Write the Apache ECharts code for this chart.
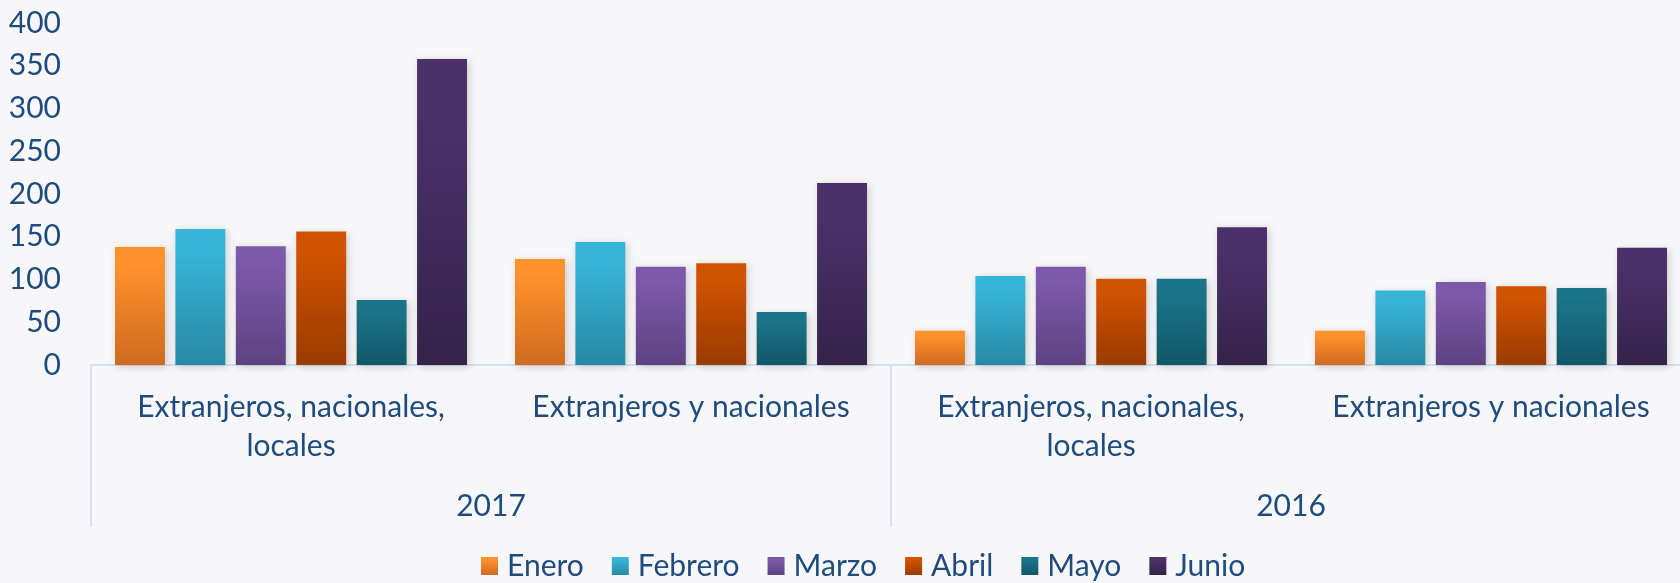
<!DOCTYPE html>
<html>
<head>
<meta charset="utf-8">
<script src="https://cdn.jsdelivr.net/npm/echarts@6/dist/echarts.min.js"></script>
<style>
html,body{margin:0;padding:0;background:#f7f7f9;}
#chart{width:1680px;height:583px;}
</style>
</head>
<body>
<div id="chart"></div>
<script>
const subCategories = ['Extranjeros, nacionales,\nlocales', 'Extranjeros y nacionales', 'Extranjeros, nacionales,\nlocales', 'Extranjeros y nacionales'];
const years = ['2017', '2016'];
const months = ['Enero', 'Febrero', 'Marzo', 'Abril', 'Mayo', 'Junio'];
const enero   = [138, 124, 40, 40];
const febrero = [159, 144, 104, 87];
const marzo   = [139, 115, 115, 97];
const abril   = [156, 119, 101, 92];
const mayo    = [76, 62, 101, 90];
const junio   = [358, 213, 161, 137];
const yTicks = { min: 0, max: 400, interval: 50 };

const seriesValues = [enero, febrero, marzo, abril, mayo, junio];
const gradients = [
  ['#ff922c', '#cf6a20'],
  ['#37b5d9', '#2789a4'],
  ['#7d59a9', '#5d4280'],
  ['#d05300', '#9a3b00'],
  ['#1b7489', '#115768'],
  ['#4b316a', '#35234a']
];
const txt = '#1f4b7d';
const fontFam = 'Lato, "Noto Sans", sans-serif';
const fs = 30;

const chart = echarts.init(document.getElementById('chart'), null, {renderer: 'canvas'});
chart.setOption({
  backgroundColor: '#f7f7f9',
  animation: false,
  textStyle: { fontFamily: fontFam },
  legend: {
    top: 546,
    left: 476,
    itemWidth: 17,
    itemHeight: 18,
    itemGap: 28,
    icon: 'rect',
    textStyle: { color: txt, fontSize: fs, fontFamily: fontFam, padding: [0, 0, 0, 4] },
    data: months
  },
  grid: { left: 91, width: 1600, top: 23, height: 342, containLabel: false, outerBoundsMode: 'none' },
  xAxis: [
    {
      type: 'category',
      data: subCategories,
      axisLine: { show: true, lineStyle: { color: '#d3e1f0', width: 2 } },
      axisTick: { show: false },
      axisLabel: { color: txt, fontSize: fs, fontFamily: fontFam, lineHeight: 39, margin: 23, interval: 0 }
    },
    {
      type: 'category',
      data: years,
      position: 'bottom',
      axisLine: { show: false },
      axisTick: { show: true, length: 162, lineStyle: { color: '#d3e1f0', width: 2 } },
      axisLabel: { color: txt, fontSize: fs, fontFamily: fontFam, lineHeight: 39, margin: 122, interval: 0 }
    }
  ],
  yAxis: {
    type: 'value',
    min: yTicks.min, max: yTicks.max, interval: yTicks.interval,
    splitLine: { show: false },
    axisLine: { show: false },
    axisTick: { show: false },
    axisLabel: { color: txt, fontSize: fs, fontFamily: fontFam, margin: 30 }
  },
  series: months.map((m, i) => ({
    name: m,
    type: 'bar',
    xAxisIndex: 0,
    data: seriesValues[i],
    barGap: '21%',
    barCategoryGap: '12%',
    itemStyle: {
      color: new echarts.graphic.LinearGradient(0, 0, 0, 1, [
        { offset: 0, color: gradients[i][0] },
        { offset: 0.15, color: gradients[i][0] },
        { offset: 1, color: gradients[i][1] }
      ]),
      shadowBlur: 8,
      shadowColor: 'rgba(0,0,0,0.18)',
      shadowOffsetX: 2,
      shadowOffsetY: 2
    }
  }))
});
</script>
</body>
</html>
